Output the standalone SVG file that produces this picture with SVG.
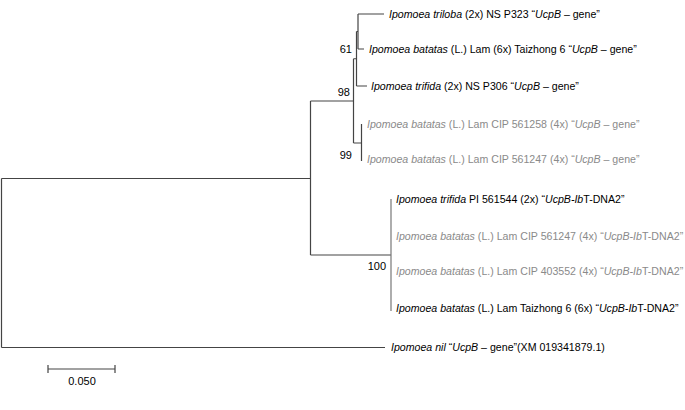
<svg xmlns="http://www.w3.org/2000/svg" width="685" height="410" viewBox="0 0 685 410">
<style>
.br{stroke:#444;stroke-width:1.2;fill:none}
.br2{stroke:#777;stroke-width:1.2;fill:none}
text{font-family:"Liberation Sans",Arial,sans-serif;font-size:10.6px;fill:#000}
.g{fill:#8a8a8a}
.i{font-style:italic}
.bs{font-size:11px}
</style>
<rect width="685" height="410" fill="#fff"/>
<g id="connectors">
<path class="br" d="M1.5 178.5V347.5M1.5 178.5H310.5M1.5 347.5H385"/>
<path class="br" d="M310.5 101V255M310.5 101H353.5M310.5 255H391"/>
<path class="br" d="M353.5 58.75V143M353.5 58.75H356.5M353.5 143H361.5"/>
<path class="br" d="M356.5 31.5V86M356.5 86H367M356.5 31.5H358"/>
<path class="br" d="M358 14V49M358 14H384M358 49H364"/>
<path class="br" d="M361.5 124V161"/>
<path class="br2" d="M391 199V311"/>
<path class="br" d="M48 369H115M48 365V373M115 365V373"/>
</g>
<g id="bootstrap">
<text class="bs" x="352" y="53" text-anchor="end">61</text>
<text class="bs" x="350" y="96" text-anchor="end">98</text>
<text class="bs" x="352" y="159" text-anchor="end">99</text>
<text class="bs" x="386" y="270" text-anchor="end">100</text>
</g>
<g id="leaf-triloba"><text x="389" y="18"><tspan class="i">Ipomoea triloba</tspan> (2x) NS P323 “<tspan class="i">UcpB</tspan> – gene”</text></g>
<g id="leaf-taizhong-ucpb"><text x="369" y="53"><tspan class="i">Ipomoea batatas</tspan> (L.) Lam (6x) Taizhong 6 “<tspan class="i">UcpB</tspan> – gene”</text></g>
<g id="leaf-trifida-ns"><text x="371" y="90"><tspan class="i">Ipomoea trifida</tspan> (2x) NS P306 “<tspan class="i">UcpB</tspan> – gene”</text></g>
<g id="leaf-cip561258"><text class="g" x="367" y="128"><tspan class="i">Ipomoea batatas</tspan> (L.) Lam CIP 561258 (4x) “<tspan class="i">UcpB</tspan> – gene”</text></g>
<g id="leaf-cip561247"><text class="g" x="367" y="163"><tspan class="i">Ipomoea batatas</tspan> (L.) Lam CIP 561247 (4x) “<tspan class="i">UcpB</tspan> – gene”</text></g>
<g id="leaf-trifida-pi"><text x="396" y="203"><tspan class="i">Ipomoea trifida</tspan> PI 561544 (2x) “<tspan class="i">UcpB-Ib</tspan>T-DNA2”</text></g>
<g id="leaf-cip561247-t"><text class="g" x="396" y="240"><tspan class="i">Ipomoea batatas</tspan> (L.) Lam CIP 561247 (4x) “<tspan class="i">UcpB-Ib</tspan>T-DNA2”</text></g>
<g id="leaf-cip403552"><text class="g" x="396" y="275"><tspan class="i">Ipomoea batatas</tspan> (L.) Lam CIP 403552 (4x) “<tspan class="i">UcpB-Ib</tspan>T-DNA2”</text></g>
<g id="leaf-taizhong-t"><text x="396" y="312"><tspan class="i">Ipomoea batatas</tspan> (L.) Lam Taizhong 6 (6x) “<tspan class="i">UcpB-Ib</tspan>T-DNA2”</text></g>
<g id="leaf-nil"><text x="391" y="351"><tspan class="i">Ipomoea nil</tspan> “<tspan class="i">UcpB</tspan> – gene”(XM 019341879.1)</text></g>
<g id="scale"><text class="bs" x="82" y="385" text-anchor="middle">0.050</text></g>
</svg>
